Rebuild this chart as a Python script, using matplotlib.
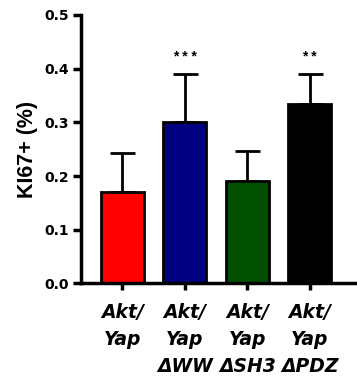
import matplotlib.pyplot as plt
import numpy as np

plt.rcParams["font.family"] = ["Liberation Sans", "DejaVu Sans"]

labels = ["Akt/\nYap", "Akt/\nYap\nΔWW", "Akt/\nYap\nΔSH3", "Akt/\nYap\nΔPDZ"]
means = [0.17, 0.30, 0.19, 0.335]
errs = [0.072, 0.09, 0.057, 0.055]
stars = ["", "***", "", "**"]
colors = ["#ff0000", "#000080", "#005000", "#000000"]

fig = plt.figure(figsize=(3.57, 3.82), dpi=100)
ax = fig.add_axes([0.227, 0.258, 0.77, 0.703])

x = np.arange(len(means))
ax.bar(x, means, width=0.69, color=colors, edgecolor="black", linewidth=2, zorder=2)
ax.errorbar(x, means, yerr=[np.zeros(len(errs)), errs], fmt="none",
            ecolor="black", elinewidth=2, capsize=9, capthick=2, zorder=1)
for xi, m, e, s in zip(x, means, errs, stars):
    if s:
        ax.text(xi, m + e + 0.032, " ".join(s), ha="center", va="center",
                fontsize=10, fontweight="bold")

ax.set_xlim(-0.66, 3.74)
ax.set_ylim(0, 0.5)
ticks = np.arange(0, 0.51, 0.1)
ax.set_yticks(ticks)
ax.set_yticklabels([f"{v:.1f}" for v in ticks], fontsize=10,
                   fontweight="bold", family="DejaVu Sans")
ax.set_xticks(x)
ax.set_xticklabels(labels, fontsize=13.5, fontweight="bold", style="oblique",
                   family="DejaVu Sans", linespacing=1.55, va="top")
ax.set_ylabel("KI67+ (%)", fontsize=15.5, fontweight="bold", labelpad=4)

for side in ["top", "right"]:
    ax.spines[side].set_visible(False)
for side in ["left", "bottom"]:
    ax.spines[side].set_linewidth(2.5)
ax.tick_params(axis="y", width=2.5, length=6, pad=3)
ax.tick_params(axis="x", width=2.5, length=5, pad=9)

fig.savefig("out.png", dpi=100)
